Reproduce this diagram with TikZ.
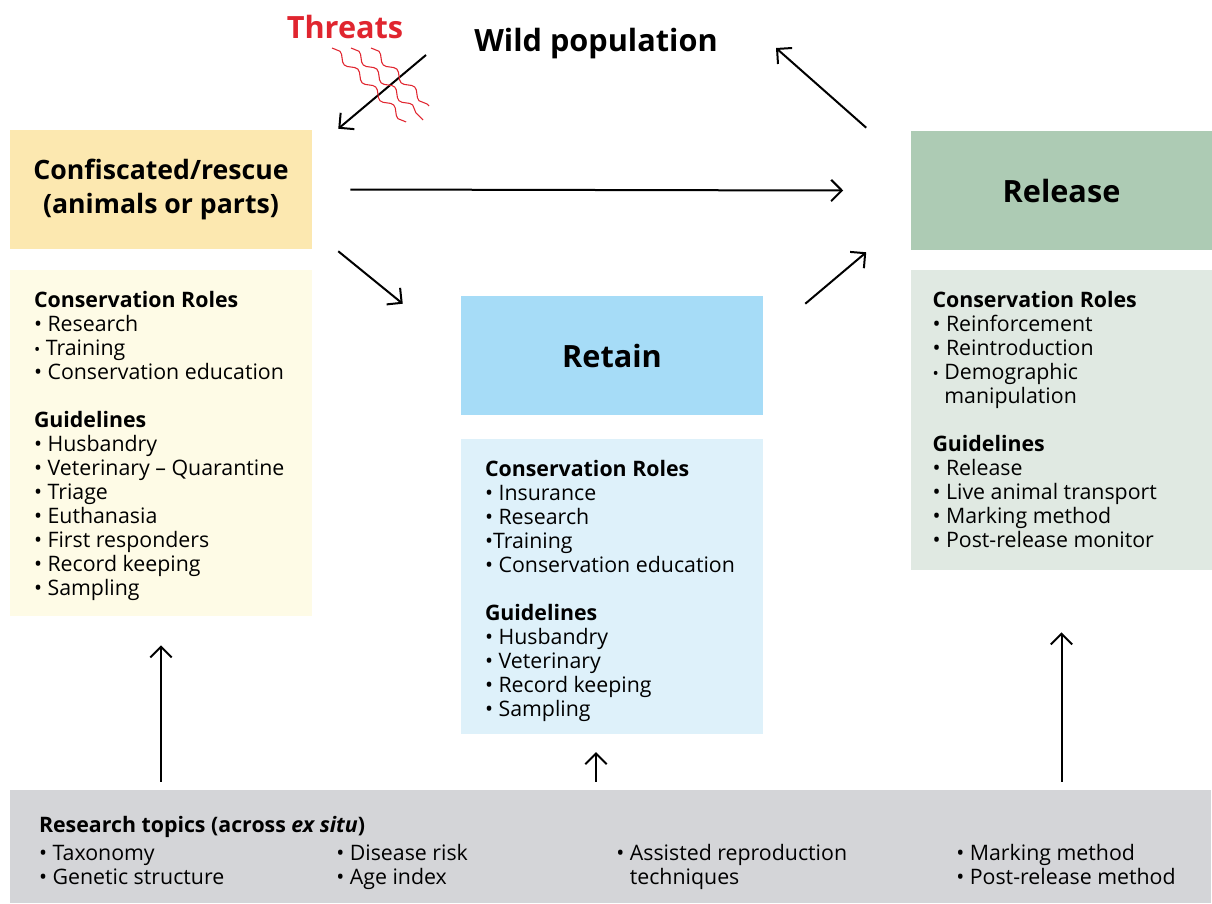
\documentclass[tikz,border=0pt]{standalone}
\usepackage{fontspec}
\setmainfont{Open Sans}
\usetikzlibrary{arrows.meta}
\usetikzlibrary{decorations.pathmorphing}
\definecolor{confhead}{HTML}{FCE8B0}
\definecolor{confbody}{HTML}{FEFBE6}
\definecolor{rethead}{HTML}{A6DCF7}
\definecolor{retbody}{HTML}{DEF1FA}
\definecolor{relhead}{HTML}{ADCBB4}
\definecolor{relbody}{HTML}{E0E9E2}
\definecolor{topicgray}{HTML}{D4D5D8}
\definecolor{threatred}{HTML}{E0252F}
\newcommand{\sbul}{{\fontsize{12.5}{18}\selectfont •}}
\begin{document}
\begin{tikzpicture}[x=0.75pt,y=-0.75pt,
    box/.style={inner sep=0,minimum width=226.5pt},
    head/.style={box,minimum height=89.25pt,align=center,font=\fontsize{23}{26}\selectfont\bfseries},
    body/.style={inner sep=0,anchor=north west,align=left,font=\fontsize{16}{18}\selectfont},
    arr/.style={line width=1.5pt,-{Straight Barb[length=8pt,width=16pt]}},
    wave/.style={threatred,line width=0.8pt,decorate,decoration={snake,amplitude=2.5pt,segment length=19pt}}]
    \useasboundingbox (0,0) rectangle (1212,903);
    \node[head,fill=confhead,font=\fontsize{20}{25.5}\selectfont\bfseries] (conf) at (161,189.5) {Confiscated/rescue\\(animals or parts)};
    \node[head,fill=rethead] (ret) at (612,355.5) {Retain};
    \node[head,fill=relhead] (rel) at (1061.5,190.5) {Release};
    \node[box,fill=confbody,minimum height=259.5pt] (confbox) at (161,443) {};
    \node[box,fill=retbody,minimum height=221.25pt] (retbox) at (612,586.5) {};
    \node[box,fill=relbody,minimum height=225pt] (relbox) at (1061.5,420) {};
    \node[inner sep=0,fill=topicgray,minimum width=900.75pt,minimum height=84.75pt] (research) at (610.5,846.5) {};
    \node[font=\fontsize{23}{26}\selectfont\bfseries] (wild) at (596,44) {Wild population};
    \node[font=\fontsize{23}{26}\selectfont\bfseries,text=threatred] (threats) at (345,27) {Threats};
    \node[body] (confroles) at ([shift={(24,21)}]confbox.north west) {\textbf{Conservation Roles}\\
      • Research\\ \sbul\ Training\\ • Conservation education\\[18pt]
      \textbf{Guidelines}\\ • Husbandry\\ • Veterinary – Quarantine\\ • Triage\\ • Euthanasia\\
      • First responders\\ • Record keeping\\ • Sampling};
    \node[body] (retroles) at ([shift={(24,21)}]retbox.north west) {\textbf{Conservation Roles}\\
      • Insurance\\ • Research\\ •Training\\ • Conservation education\\[18pt]
      \textbf{Guidelines}\\ • Husbandry\\ • Veterinary\\ • Record keeping\\ • Sampling};
    \node[body] (relroles) at ([shift={(22,21)}]relbox.north west) {\textbf{Conservation Roles}\\
      • Reinforcement\\ • Reintroduction\\ \sbul\ Demographic\\ \hphantom{\sbul\ }manipulation\\[18pt]
      \textbf{Guidelines}\\ • Release\\ • Live animal transport\\ • Marking method\\ • Post-release monitor};
    \node[body] (topics) at ([shift={(29,26)}]research.north west) {\textbf{Research topics (across \textit{ex situ})}\\[3pt]
      • Taxonomy\\ • Genetic structure};
    \node[body,anchor=base west] (topics2) at (topics.base west -| 336,0) {• Disease risk\\ • Age index};
    \node[body,anchor=base west] (topics3) at (topics.base west -| 616,0) {• Assisted reproduction\\ \hphantom{• }techniques};
    \node[body,anchor=base west] (topics4) at (topics.base west -| 956,0) {• Marking method\\ • Post-release method};
    \draw[arr] ([shift={(-170,11)}]wild.center) -- ([shift={(26,-1)}]conf.north east);
    \draw[arr] ([shift={(-44,-3)}]rel.north west) -- ([shift={(180,4)}]wild.center);
    \draw[arr] ([shift={(38,0)}]conf.east) -- ([shift={(-67,0)}]rel.west);
    \draw[arr] ([shift={(26,2)}]conf.south east) -- ([shift={(-58,8)}]ret.north west);
    \draw[arr] ([shift={(42,8)}]ret.north east) -- ([shift={(-44,2)}]rel.south west);
    \coordinate (retup) at (596,752);
    \draw[arr,shorten <=6pt,shorten >=21.75pt] (research.north -| confbox.south) -- (confbox.south);
    \draw[arr,shorten <=6pt] (research.north -| retup) -- (retup);
    \draw[arr,shorten <=6pt,shorten >=46.5pt] (research.north -| relbox.south) -- (relbox.south);
    \foreach \dx/\len in {0/74,19/72,39/58}
      \draw[wave] (332+\dx,48) -- ++(\len,\len);
  \end{tikzpicture}
\end{document}
